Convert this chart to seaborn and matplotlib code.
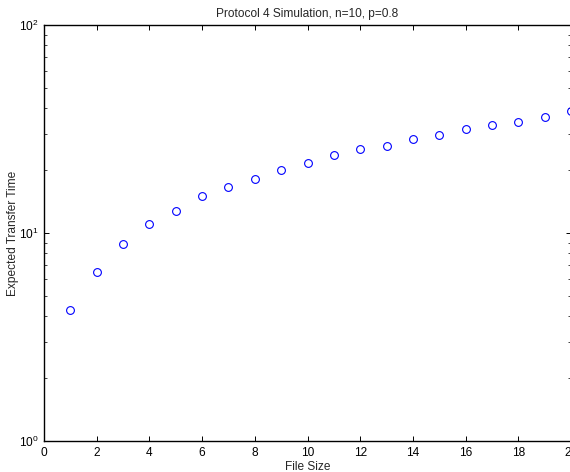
import matplotlib
matplotlib.use("Agg")
import matplotlib.pyplot as plt
import seaborn as sns
import numpy as np
import pandas as pd
from matplotlib.ticker import LogLocator, FixedLocator

file_size = [1, 2, 3, 4, 5, 6, 7, 8, 9, 10, 11, 12, 13, 14, 15, 16, 17, 18, 19, 20]
transfer_time = [4.28, 6.51, 8.89, 11.05, 12.76, 15.1, 16.6, 18.1, 20.1, 21.7,
                 23.6, 25.3, 26.3, 28.4, 29.6, 31.5, 33.0, 34.3, 36.0, 38.5]
x_ticks = [0, 2, 4, 6, 8, 10, 12, 14, 16, 18, 20]

sns.set_style("ticks")
plt.rcParams['font.family'] = ['Liberation Sans', 'DejaVu Sans']
plt.rcParams['mathtext.fontset'] = 'custom'
plt.rcParams['mathtext.rm'] = 'Liberation Sans'
plt.rcParams['mathtext.it'] = 'Liberation Sans'

FS = 8.6

df = pd.DataFrame({"File Size": file_size, "Expected Transfer Time": transfer_time})

fig = plt.figure(figsize=(5.70, 4.72), dpi=100)
ax = fig.add_axes([44/570, 31/472, 527/570, 416/472])

sns.lineplot(data=df, x="File Size", y="Expected Transfer Time", ax=ax,
             linestyle='', marker='o', markersize=5.6, markerfacecolor='none',
             markeredgecolor='#0000ff', markeredgewidth=0.8, clip_on=False)

ax.set_yscale('log')
ax.set_ylim(1, 100)
ax.set_xlim(0, 20)
ax.xaxis.set_major_locator(FixedLocator(x_ticks))
ax.set_xticklabels([str(t) for t in x_ticks])
ax.yaxis.set_major_locator(LogLocator(base=10, numticks=5))
ax.yaxis.set_minor_locator(LogLocator(base=10, subs=np.arange(2, 10), numticks=10))

for s in ax.spines.values():
    s.set_visible(True)
    s.set_linewidth(1.0)
    s.set_color('black')

ax.tick_params(axis='both', which='major', direction='in', length=3.8, width=0.7,
               top=True, right=True, labelsize=FS, colors='black', pad=4)
ax.tick_params(axis='y', which='minor', direction='in', length=2.2, width=0.6,
               left=True, right=True)
ax.tick_params(axis='x', which='minor', bottom=False, top=False)

ax.set_title("Protocol 4 Simulation, n=10, p=0.8", fontsize=FS, pad=6)
ax.set_xlabel("File Size", fontsize=FS, labelpad=2)
ax.set_ylabel("Expected Transfer Time", fontsize=FS)
ax.yaxis.set_label_coords(-0.047, 0.5)

fig.savefig("out.png", dpi=100, facecolor='white')
